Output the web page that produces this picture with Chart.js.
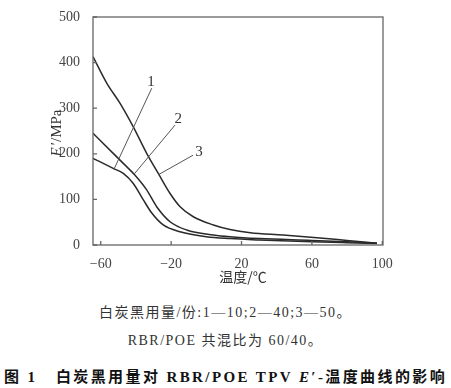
<!DOCTYPE html>
<html>
<head>
<meta charset="utf-8">
<script src="https://cdn.jsdelivr.net/npm/chart.js@4.4.1/dist/chart.umd.min.js"></script>
<style>
    body { margin: 0; background: #fff; width: 451px; height: 388px; position: relative; overflow: hidden; }
    #grafico { position: absolute; left: 0; top: 0; }
    .legenda { position: absolute; left: 0; width: 451px; text-align: center; color: #333;
        font-family: 'Liberation Serif', 'Noto Sans CJK SC', serif; font-size: 14px; letter-spacing: 1.5px; white-space: nowrap; }
    #titulo { position: absolute; left: 4px; top: 365px; color: #111; white-space: nowrap;
        font-family: 'Liberation Serif', 'Noto Sans CJK SC', serif; font-size: 15px; font-weight: bold; letter-spacing: 2.4px; }
</style>
</head>
<body>
<canvas id="grafico" width="451" height="292"></canvas>
<div class="legenda" style="top:301px">白炭黑用量/份:1—10;2—40;3—50。</div>
<div class="legenda" style="top:329px">RBR/POE 共混比为 60/40。</div>
<div id="titulo">图 1&nbsp;&nbsp;&nbsp;白炭黑用量对 RBR/POE TPV <i>E</i>′-温度曲线的影响</div>
<script>
// Temperatura (°C) e modulo E' (MPa)
const temp1 = [-64.4, -52.9, -47.2, -41.5, -35.8, -31, -24.5, -15, 0, 13.5, 30, 60, 80, 97];
const mod1 = [190, 168, 157, 135, 99, 70, 44, 29, 18, 14, 11, 7, 5, 3.5];

const temp2 = [-64.4, -52.9, -47.2, -40.5, -33.9, -28.2, -20.6, -11.2, 4, 13.5, 30, 60, 80, 97];
const mod2 = [245, 201, 179, 153, 121, 84, 51, 33, 22, 18, 14, 10, 7, 4];

const temp3 = [-64.4, -56.6, -49.1, -41.5, -33.9, -27.3, -20.6, -14.9, -7.4, 4, 13.5, 25, 43.6, 62.9, 80, 97];
const mod3 = [413, 355, 311, 259, 201, 157, 113, 84, 62, 44, 34, 27, 22, 16, 10, 4];

const ticksX = [-60, -20, 20, 60, 100];
const ticksY = [0, 100, 200, 300, 400, 500];

// rotulos das curvas: posicao do numero e linha de chamada (em unidades dos eixos)
const rotulos = [
    { texto: '1', tx: -31.4, ty: 358, x1: -31, y1: 344, x2: -52.5, y2: 166 },
    { texto: '2', tx: -15.9, ty: 276, x1: -17.8, y1: 263, x2: -40.9, y2: 156 },
    { texto: '3', tx: -4.2, ty: 203, x1: -7.5, y1: 197, x2: -27.3, y2: 154 }
];

const pares = (xs, ys) => xs.map((x, i) => ({ x: x, y: ys[i] }));

const moldura = {
    id: 'moldura',
    afterDraw(chart) {
        const { ctx, chartArea: a, scales: { x, y } } = chart;
        ctx.save();
        ctx.strokeStyle = '#666';
        ctx.lineWidth = 1.3;
        ctx.strokeRect(a.left, a.top, a.right - a.left, a.bottom - a.top);
        ctx.beginPath();
        ticksX.forEach(v => {
            const p = x.getPixelForValue(v);
            ctx.moveTo(p, a.bottom); ctx.lineTo(p, a.bottom - 4);
        });
        ticksY.forEach(v => {
            const p = y.getPixelForValue(v);
            ctx.moveTo(a.left, p); ctx.lineTo(a.left + 4, p);
        });
        ctx.stroke();

        // linhas de chamada
        ctx.strokeStyle = '#555';
        ctx.lineWidth = 1;
        ctx.fillStyle = '#333';
        ctx.font = "15px 'Liberation Serif'";
        ctx.textAlign = 'center';
        ctx.textBaseline = 'middle';
        rotulos.forEach(r => {
            ctx.beginPath();
            ctx.moveTo(x.getPixelForValue(r.x1), y.getPixelForValue(r.y1));
            ctx.lineTo(x.getPixelForValue(r.x2), y.getPixelForValue(r.y2));
            ctx.stroke();
            ctx.fillText(r.texto, x.getPixelForValue(r.tx), y.getPixelForValue(r.ty));
        });

        // titulo do eixo x
        ctx.font = "14px 'Noto Sans CJK SC'";
        ctx.fillText('温度/℃', (a.left + a.right) / 2 + 5, a.bottom + 32);

        // titulo do eixo y: E' em italico
        ctx.translate(57, (a.top + a.bottom) / 2 + 2);
        ctx.rotate(-Math.PI / 2);
        const fE = "italic 15px 'Liberation Serif'";
        const fR = "15px 'Liberation Serif'";
        ctx.font = fE; const wE = ctx.measureText('E').width + 2;
        ctx.font = fR; const wR = ctx.measureText('′/MPa').width;
        const x0 = -(wE + wR) / 2;
        ctx.textAlign = 'left';
        ctx.font = fE; ctx.fillText('E', x0, 0);
        ctx.font = fR; ctx.fillText('′/MPa', x0 + wE, 0);
        ctx.restore();
    }
};

function inicializarGrafico() {
    Chart.defaults.font.family = "'Liberation Serif', 'Noto Sans CJK SC', serif";
    Chart.defaults.font.size = 14;
    Chart.defaults.color = '#444';

    const estilo = { borderColor: '#2a2a2a', borderWidth: 1.5, pointRadius: 0, fill: false, cubicInterpolationMode: 'monotone' };

    new Chart(document.getElementById('grafico').getContext('2d'), {
        type: 'line',
        data: {
            datasets: [
                Object.assign({ label: '1', data: pares(temp1, mod1) }, estilo),
                Object.assign({ label: '2', data: pares(temp2, mod2) }, estilo),
                Object.assign({ label: '3', data: pares(temp3, mod3) }, estilo)
            ]
        },
        options: {
            responsive: false,
            animation: false,
            layout: { padding: { top: 17, right: 68, left: 0, bottom: 0 } },
            plugins: { legend: { display: false }, tooltip: { enabled: false } },
            scales: {
                x: {
                    type: 'linear',
                    min: -64.4,
                    max: 100.4,
                    afterBuildTicks: s => { s.ticks = ticksX.map(v => ({ value: v })); },
                    afterFit: s => { s.height = 292 - 245; },
                    grid: { display: false },
                    border: { display: false },
                    ticks: { padding: 3, callback: v => String(v).replace('-', '−') }
                },
                y: {
                    min: 0,
                    max: 500,
                    afterBuildTicks: s => { s.ticks = ticksY.map(v => ({ value: v })); },
                    afterFit: s => { s.width = 93; },
                    grid: { display: false },
                    border: { display: false },
                    ticks: { padding: 5 }
                }
            }
        },
        plugins: [moldura]
    });
}

inicializarGrafico();
</script>
</body>
</html>
